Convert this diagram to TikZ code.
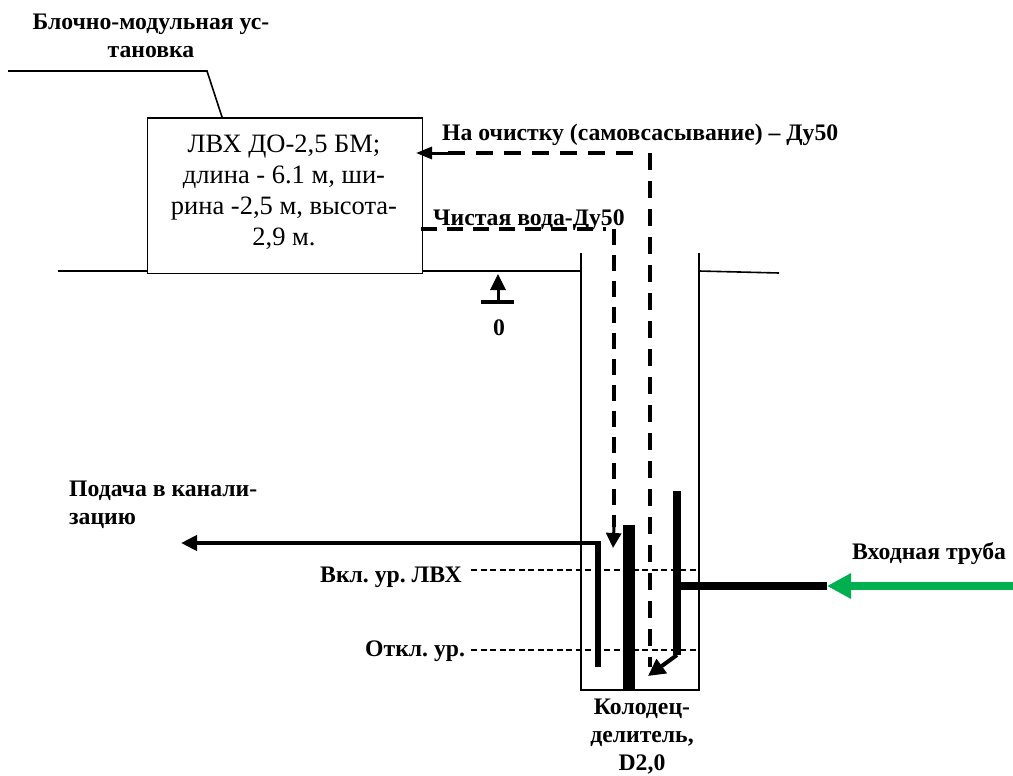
\documentclass[tikz,border=0pt]{standalone}
\usepackage{fontspec}
\setmainfont{Liberation Serif}
\usetikzlibrary{arrows.meta}
\definecolor{pipegreen}{RGB}{0,176,80}
\frenchspacing
\tikzset{
  lbl/.style={font=\fontsize{23.7}{28}\selectfont\bfseries, inner sep=0pt, anchor=base west, align=left},
  lblc/.style={font=\fontsize{23.7}{28}\selectfont\bfseries, inner sep=0pt, anchor=base, align=center},
  thinline/.style={line width=1.6pt},
  wall/.style={line width=1.9pt},
  pipedash/.style={line width=4pt, dash pattern=on 17pt off 11pt},
  pipedashb/.style={line width=4pt, dash pattern=on 16pt off 10pt},
  leveldash/.style={line width=1.2pt, dash pattern=on 6pt off 3.5pt},
}
\begin{document}
\begin{tikzpicture}[x=1pt,y=-1pt]
\useasboundingbox (0,0) rectangle (1013,776);
% box
\node[draw,wall,minimum width=275pt,minimum height=155.5pt,inner sep=0pt,anchor=north west] (box) at (146.5,117) {};
\node[inner sep=0pt,anchor=base,font=\fontsize{26.5}{31}\selectfont,align=center] (boxtxt) at (284,245) {ЛВХ ДО-2,5 БМ;\\длина - 6.1 м, ши-\\рина -2,5 м, высота-\\2,9 м.};
% leader
\coordinate (l0) at (8,71);
\coordinate (l1) at (207,71);
\coordinate (l2) at (222,117);
\draw[thinline] (l0) -- (l1) -- (l2);
% ground
\coordinate (g0) at (58,271);
\coordinate (g1) at (581,271);
\coordinate (g2) at (699,271);
\coordinate (g3) at (779,273);
\draw[thinline] (g0) -- (box.south west |- g0);
\draw[thinline] (box.south east |- g1) -- (g1);
\draw[thinline] (g2) -- (g3);
% well
\coordinate (wtl) at (581,253);
\coordinate (wbl) at (581,690);
\coordinate (wbr) at (699,690);
\coordinate (wtr) at (699,253);
\draw[wall] (wtl) -- (wbl) -- (wbr) -- (wtr);
% level mark
\coordinate (m0) at (498,302);
\coordinate (m1) at (498,274);
\coordinate (b0) at (481,302);
\coordinate (b1) at (514,302);
\draw[line width=3.5pt] (b0) -- (b1);
\draw[line width=3pt,-{Triangle[length=16pt,width=15pt]}] (m0) -- (m1);
\node[lblc] (zero) at (499,335) {0};
% dashed pipes
\coordinate (p1a) at (650,667);
\coordinate (p1b) at (650,153);
\coordinate (p1e) at (640,153);
\coordinate (p1c) at (448,153);
\coordinate (p1d) at (416,153);
\draw[pipedash] (p1b) -- (p1a);
\draw[pipedash] (p1c) -- (p1e);
\draw[line width=3pt,-{Triangle[length=16pt,width=12pt]}] (p1c) -- (p1d);
\coordinate (p2a) at (421,229);
\coordinate (p2e) at (606,229);
\coordinate (p2b) at (614,229);
\coordinate (p2c) at (614,527);
\coordinate (p2d) at (613,548);
\draw[pipedashb] (p2a) -- (p2e);
\draw[pipedashb] (p2b) -- (p2c);
\draw[line width=3pt,-{Triangle[length=15pt,width=15pt]}] (p2c) -- (p2d);
% levels
\coordinate (v0) at (471,570);
\coordinate (v1) at (699,570);
\coordinate (o0) at (471,650);
\coordinate (o1) at (699,650);
\draw[leveldash] (v0) -- (v1);
\draw[leveldash] (o0) -- (o1);
% outlet
\coordinate (s0) at (181,543);
\coordinate (s1) at (600.5,543);
\coordinate (s2) at (598,545);
\coordinate (s3) at (598,667);
\draw[line width=5.5pt] (s2) ++(0,-3) -- (s3);
\draw[line width=4pt,-{Triangle[length=16pt,width=15pt]}] (s1) -- (s0);
% divider
\coordinate (d0) at (629,525);
\coordinate (d1) at (629,690);
\draw[line width=12pt] (d0) -- (d1);
% inlet
\coordinate (i0) at (677,491);
\coordinate (i1) at (677,655);
\coordinate (i2) at (648,676);
\coordinate (i3) at (677,585.5);
\coordinate (i4) at (827,585.5);
\draw[line width=7.5pt] (i0) -- (i1);
\draw[line width=8pt] (i3) -- (i4);
\draw[line width=4pt,-{Triangle[length=17pt,width=17pt]}] (i1) -- (i2);
% green
\coordinate (e0) at (1013,586);
\coordinate (e1) at (827,586);
\draw[pipegreen,line width=8pt,-{Triangle[length=24pt,width=24pt]}] (e0) -- (e1);
% labels
\node[lblc] (t1) at (151,58) {Блочно-модульная ус-\\тановка};
\node[lbl] (t2) at (442,140) {На очистку (самовсасывание) – Ду50};
\node[lbl] (t3) at (433,225) {Чистая вода-Ду50};
\node[lbl] (t4) at (69,524) {Подача в канали-\\зацию};
\node[lbl] (t5) at (320,582) {Вкл. ур. ЛВХ};
\node[lbl] (t6) at (365,656) {Откл. ур.};
\node[lbl] (t7) at (852,559) {Входная труба};
\node[lblc] (t8) at (642,770) {Колодец-\\делитель,\\D2,0};
\end{tikzpicture}
\end{document}
